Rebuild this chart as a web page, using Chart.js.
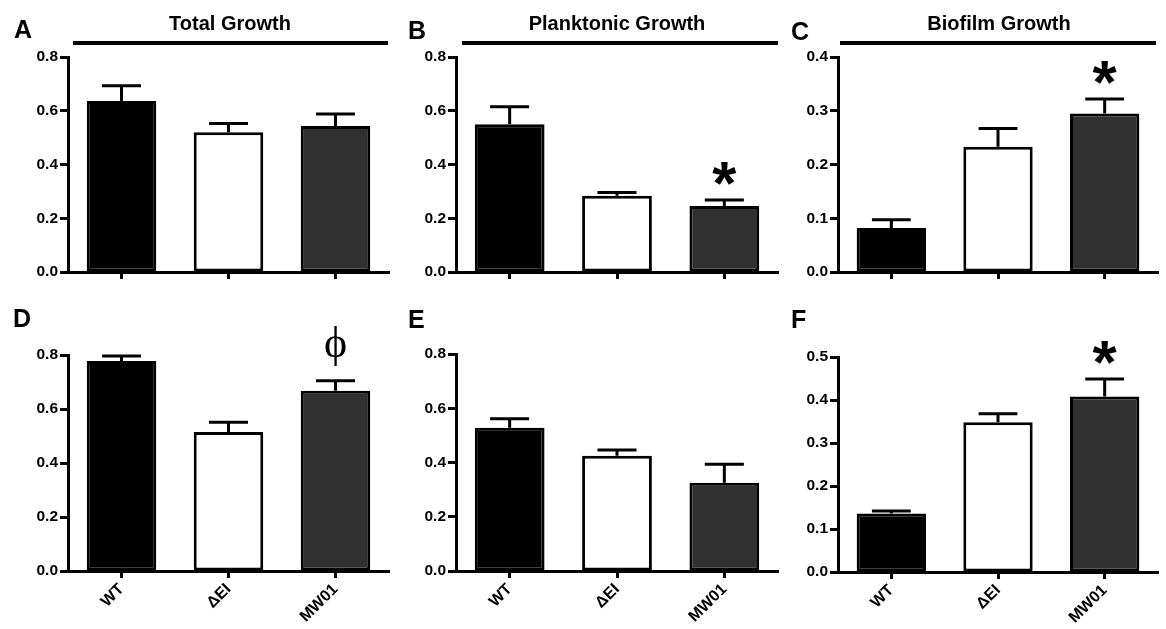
<!DOCTYPE html>
<html>
<head>
<meta charset="utf-8">
<script src="https://cdn.jsdelivr.net/npm/chart.js@4.4.0/dist/chart.umd.min.js"></script>
<style>
  html, body { margin: 0; padding: 0; background: #fff; }
  #fig { position: relative; width: 1166px; height: 629px; overflow: hidden; }
  .panel { position: absolute; }
  .letter { position: absolute; font: bold 25px "Liberation Sans", Arial, sans-serif; line-height: 25px; color: #000; z-index: 2; }
  .title { position: absolute; font: bold 20px "Liberation Sans", Arial, sans-serif; line-height: 20px; color: #000;
           transform: translateX(-50%); white-space: nowrap; z-index: 2; }
  .rule { position: absolute; top: 41px; height: 4px; background: #000; z-index: 2; }
</style>
</head>
<body>
<div id="fig">
  <canvas id="cA" class="panel" width="392" height="300" style="left:0;top:0"></canvas>
  <canvas id="cB" class="panel" width="390" height="300" style="left:392px;top:0"></canvas>
  <canvas id="cC" class="panel" width="384" height="300" style="left:782px;top:0"></canvas>
  <canvas id="cD" class="panel" width="392" height="329" style="left:0;top:300px"></canvas>
  <canvas id="cE" class="panel" width="390" height="329" style="left:392px;top:300px"></canvas>
  <canvas id="cF" class="panel" width="384" height="329" style="left:782px;top:300px"></canvas>

  <div class="letter" style="left:14px;top:17px">A</div>
  <div class="letter" style="left:408px;top:18px">B</div>
  <div class="letter" style="left:791px;top:19px">C</div>
  <div class="letter" style="left:13px;top:306px">D</div>
  <div class="letter" style="left:408px;top:307px">E</div>
  <div class="letter" style="left:791px;top:307px">F</div>

  <div class="title" style="left:230px;top:13px">Total Growth</div>
  <div class="title" style="left:617px;top:13px">Planktonic Growth</div>
  <div class="title" style="left:999px;top:13px">Biofilm Growth</div>
  <div class="rule" style="left:73px;width:315px"></div>
  <div class="rule" style="left:462px;width:316px"></div>
  <div class="rule" style="left:840px;width:316px"></div>
</div>
<script>
const categories = ['WT', '\u0394EI', 'MW01'];
const barColors = ['#000000', '#ffffff', '#313131'];

// top row
const totalMean = [0.636, 0.520, 0.543];
const totalSem = [0.057, 0.033, 0.045];
const planktonicMean = [0.550, 0.284, 0.246];
const planktonicSem = [0.065, 0.012, 0.022];
const biofilmMean = [0.082, 0.233, 0.295];
const biofilmSem = [0.015, 0.034, 0.027];

// bottom row
const totalMean2 = [0.778, 0.515, 0.668];
const totalSem2 = [0.018, 0.036, 0.037];
const planktonicMean2 = [0.528, 0.425, 0.325];
const planktonicSem2 = [0.033, 0.021, 0.069];
const biofilmMean2 = [0.136, 0.348, 0.408];
const biofilmSem2 = [0.006, 0.020, 0.041];

// significance marks over each bar
const marksA = ['', '', ''];
const marksB = ['', '', '*'];
const marksC = ['', '', '*'];
const marksD = ['', '', '\u03D5'];
const marksE = ['', '', ''];
const marksF = ['', '', '*'];

// y tick labels
const ticks08 = [0, 0.2, 0.4, 0.6, 0.8];
const ticks04 = [0, 0.1, 0.2, 0.3, 0.4];
const ticks05 = [0, 0.1, 0.2, 0.3, 0.4, 0.5];

const fontFamily = '"Liberation Sans", Arial, sans-serif';

function errorPlugin(mean, sem, marks) {
  return {
    id: 'errorBars',
    afterDatasetsDraw(chart) {
      const ctx = chart.ctx;
      const y = chart.scales.y;
      const meta = chart.getDatasetMeta(0);
      ctx.save();
      ctx.strokeStyle = '#000';
      ctx.fillStyle = '#000';
      ctx.lineWidth = 3;
      meta.data.forEach(function (bar, i) {
        const top = y.getPixelForValue(mean[i] + sem[i]);
        const half = bar.width * 0.28;
        ctx.beginPath();
        ctx.moveTo(bar.x, bar.y);
        ctx.lineTo(bar.x, top);
        ctx.moveTo(bar.x - half, top);
        ctx.lineTo(bar.x + half, top);
        ctx.stroke();

        const m = marks[i];
        if (m) {
          if (m === '*') ctx.font = 'bold 62px ' + fontFamily;
          else ctx.font = '44px "Liberation Serif", "DejaVu Serif", serif';
          ctx.textAlign = 'center';
          ctx.textBaseline = 'alphabetic';
          const tm = ctx.measureText(m);
          // keep a small gap between the glyph bottom and the cap
          ctx.fillText(m, bar.x, top - 15 - tm.actualBoundingBoxDescent);
        }
      });
      ctx.restore();
    }
  };
}

function makeChart(p) {
  const axisFont = { family: fontFamily, weight: 'bold', size: 15.5 };
  const labelFont = { family: fontFamily, weight: 'bold', size: 16 };
  return new Chart(document.getElementById('c' + p.id), {
    type: 'bar',
    data: {
      labels: categories,
      datasets: [{
        data: p.mean,
        backgroundColor: barColors,
        borderColor: '#000',
        borderWidth: 3,
        borderSkipped: false,
        barPercentage: 0.65,
        categoryPercentage: 1
      }]
    },
    options: {
      responsive: false,
      animation: false,
      devicePixelRatio: 1,
      layout: { padding: { left: 0, right: p.padRight, top: p.topY, bottom: 0 } },
      plugins: { legend: { display: false }, tooltip: { enabled: false } },
      scales: {
        x: {
          grid: { drawOnChartArea: false, offset: false, tickLength: 7, tickWidth: 3, tickColor: '#000' },
          border: { display: true, color: '#000', width: 3 },
          ticks: { display: p.showLabels, minRotation: 45, maxRotation: 45, color: '#000', font: labelFont, padding: 2 },
          afterFit(s) { s.height = p.h - p.bottomY; }
        },
        y: {
          min: 0,
          max: p.yTicks[p.yTicks.length - 1],
          afterBuildTicks(s) { s.ticks = p.yTicks.map(v => ({ value: v })); },
          grid: { drawOnChartArea: false, tickLength: 8, tickWidth: 3, tickColor: '#000' },
          border: { display: true, color: '#000', width: 3 },
          ticks: { callback: v => Number(v).toFixed(1), color: '#000', font: axisFont, padding: 2 },
          afterFit(s) { s.width = p.axisX; }
        }
      }
    },
    plugins: [errorPlugin(p.mean, p.sem, p.marks)]
  });
}

makeChart({ id: 'A', h: 300, axisX: 68, topY: 57, bottomY: 272, padRight: 3, mean: totalMean, sem: totalSem, marks: marksA, yTicks: ticks08, showLabels: false });
makeChart({ id: 'B', h: 300, axisX: 64, topY: 57, bottomY: 272, padRight: 4, mean: planktonicMean, sem: planktonicSem, marks: marksB, yTicks: ticks08, showLabels: false });
makeChart({ id: 'C', h: 300, axisX: 56, topY: 57, bottomY: 272, padRight: 8, mean: biofilmMean, sem: biofilmSem, marks: marksC, yTicks: ticks04, showLabels: false });
makeChart({ id: 'D', h: 329, axisX: 68, topY: 55, bottomY: 271, padRight: 3, mean: totalMean2, sem: totalSem2, marks: marksD, yTicks: ticks08, showLabels: true });
makeChart({ id: 'E', h: 329, axisX: 64, topY: 54, bottomY: 271, padRight: 4, mean: planktonicMean2, sem: planktonicSem2, marks: marksE, yTicks: ticks08, showLabels: true });
makeChart({ id: 'F', h: 329, axisX: 56, topY: 57, bottomY: 272, padRight: 8, mean: biofilmMean2, sem: biofilmSem2, marks: marksF, yTicks: ticks05, showLabels: true });
</script>
</body>
</html>
